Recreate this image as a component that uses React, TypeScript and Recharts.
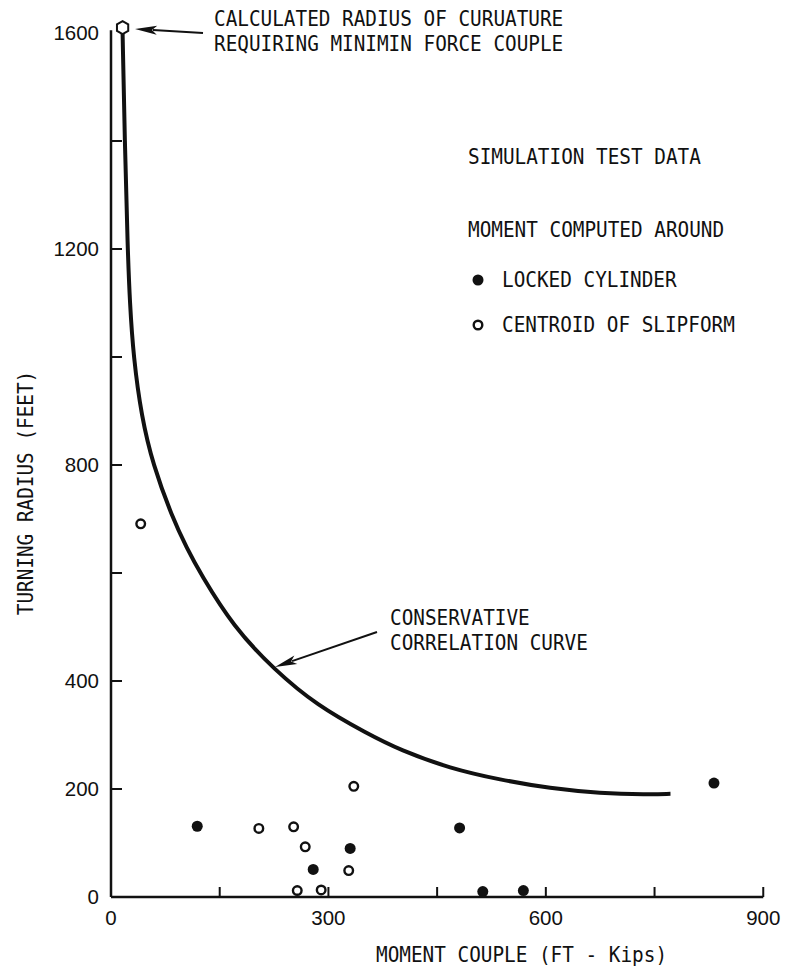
import {
  ReferenceLine,
  Scatter,
  ScatterChart,
  XAxis,
  YAxis,
} from "recharts";

// moment couple (ft-kips) vs turning radius (feet)
const lockedCylinder = [
  { x: 119, y: 131 },
  { x: 279, y: 51 },
  { x: 330, y: 90 },
  { x: 481, y: 128 },
  { x: 513, y: 10 },
  { x: 569, y: 12 },
  { x: 832, y: 211 },
];

const centroidSlipform = [
  { x: 41, y: 691 },
  { x: 204, y: 127 },
  { x: 252, y: 130 },
  { x: 268, y: 93 },
  { x: 257, y: 12 },
  { x: 290, y: 13 },
  { x: 328, y: 49 },
  { x: 335, y: 205 },
];

const calculatedPoint = [{ x: 16, y: 1610 }];

const correlationCurve = [
  { x: 16, y: 1600 },
  { x: 19, y: 1400 },
  { x: 23, y: 1200 },
  { x: 26, y: 1100 },
  { x: 31, y: 1000 },
  { x: 42, y: 890 },
  { x: 58, y: 800 },
  { x: 84, y: 705 },
  { x: 105, y: 645 },
  { x: 123, y: 600 },
  { x: 169, y: 500 },
  { x: 226, y: 420 },
  { x: 284, y: 355 },
  { x: 353, y: 303 },
  { x: 399, y: 272 },
  { x: 468, y: 238 },
  { x: 537, y: 217 },
  { x: 606, y: 201 },
  { x: 675, y: 192 },
  { x: 740, y: 190 },
  { x: 772, y: 191 },
];

const xTicks = [0, 150, 300, 450, 600, 750, 900];
const xLabels = [0, 300, 600, 900];
const yTicks = [0, 200, 400, 600, 800, 1000, 1200, 1400, 1600];
const yLabels = [0, 200, 400, 800, 1200, 1600];

const INK = "#111";
const NUM_FONT = "'Liberation Sans', Arial, sans-serif";
const MONO_FONT = "'DejaVu Sans Mono', monospace";
const X_GAP = 13;
const Y_GAP = 12;

function XTick(props: any) {
  const { x, y, payload } = props;
  const v = payload.value as number;
  return (
    <g>
      {v > 0 && (
        <line x1={x} x2={x} y1={y - X_GAP} y2={y - X_GAP - 10} stroke={INK} strokeWidth={2} />
      )}
      {xLabels.includes(v) && (
        <text x={x} y={y} dy="0.71em" textAnchor="middle" fontSize={20.5} fontFamily={NUM_FONT} fill={INK}>
          {v}
        </text>
      )}
    </g>
  );
}

function YTick(props: any) {
  const { x, y, payload } = props;
  const v = payload.value as number;
  return (
    <g>
      {v > 0 && v < 1600 && (
        <line x1={x + Y_GAP} x2={x + Y_GAP + 11} y1={y} y2={y} stroke={INK} strokeWidth={2} />
      )}
      {yLabels.includes(v) && (
        <text x={x} y={y} dy="0.36em" textAnchor="end" fontSize={20.5} fontFamily={NUM_FONT} fill={INK}>
          {v}
        </text>
      )}
    </g>
  );
}

function FilledDot(props: any) {
  return <circle cx={props.cx} cy={props.cy} r={5.5} fill={INK} />;
}

function OpenDot(props: any) {
  return <circle cx={props.cx} cy={props.cy} r={4.3} fill="#fff" stroke={INK} strokeWidth={2.4} />;
}

function Hexagon(props: any) {
  const { cx, cy } = props;
  const r = 6.5;
  const pts = [0, 1, 2, 3, 4, 5]
    .map((i) => {
      const a = (Math.PI / 3) * i + Math.PI / 6;
      return `${cx + r * Math.cos(a)},${cy + r * Math.sin(a)}`;
    })
    .join(" ");
  return <polygon points={pts} fill="#fff" stroke={INK} strokeWidth={2} />;
}

function Arrow({ x1, y1, x2, y2 }: { x1: number; y1: number; x2: number; y2: number }) {
  const dx = x2 - x1;
  const dy = y2 - y1;
  const len = Math.hypot(dx, dy);
  const ux = dx / len;
  const uy = dy / len;
  const headLen = 22;
  const headW = 4.5;
  const bx = x2 - ux * headLen;
  const by = y2 - uy * headLen;
  const pts = `${x2},${y2} ${bx - uy * headW},${by + ux * headW} ${bx + ux * 5},${by + uy * 5} ${bx + uy * headW},${by - ux * headW}`;
  return (
    <g>
      <line x1={x1} y1={y1} x2={bx + ux * 4} y2={by + uy * 4} stroke={INK} strokeWidth={2} />
      <polygon points={pts} fill={INK} />
    </g>
  );
}

// tall, condensed typewriter-style lettering
function Label({ x, y, children, rotate }: { x: number; y: number; children: string; rotate?: boolean }) {
  return (
    <text
      transform={`translate(${x} ${y})${rotate ? " rotate(-90)" : ""} scale(0.9 1)`}
      textAnchor={rotate ? "middle" : "start"}
      fontSize={21.5}
      fontFamily={MONO_FONT}
      fill={INK}
    >
      {children}
    </text>
  );
}

function Annotations() {
  return (
    <svg
      width={786}
      height={978}
      style={{ position: "absolute", left: 0, top: 0, pointerEvents: "none" }}
    >
      <Label x={214} y={26}>CALCULATED RADIUS OF CURUATURE</Label>
      <Label x={214} y={51}>REQUIRING MINIMIN FORCE COUPLE</Label>
      <Arrow x1={203} y1={33} x2={135} y2={29} />

      <Label x={468} y={164}>SIMULATION TEST DATA</Label>
      <Label x={468} y={237}>MOMENT COMPUTED AROUND</Label>
      <circle cx={478} cy={280} r={5.5} fill={INK} />
      <Label x={502} y={287}>LOCKED CYLINDER</Label>
      <circle cx={478} cy={325} r={4.3} fill="#fff" stroke={INK} strokeWidth={2.4} />
      <Label x={502} y={332}>CENTROID OF SLIPFORM</Label>

      <Label x={390} y={625}>CONSERVATIVE</Label>
      <Label x={390} y={650}>CORRELATION CURVE</Label>
      <Arrow x1={377} y1={632} x2={275} y2={667} />

      <Label x={376} y={962}>MOMENT COUPLE (FT - Kips)</Label>
      <Label x={33} y={493} rotate>TURNING RADIUS (FEET)</Label>
    </svg>
  );
}

export default function App() {
  return (
    <div
      style={{
        position: "absolute",
        left: 0,
        top: 0,
        width: 786,
        height: 978,
        background: "#fff",
      }}
    >
      <ScatterChart
        width={786}
        height={978}
        margin={{ top: 6, right: 1, bottom: 0, left: 0 }}
      >
        <XAxis
          type="number"
          dataKey="x"
          domain={[0, 930]}
          ticks={xTicks}
          interval={0}
          height={81}
          axisLine={false}
          tickLine={false}
          tickSize={0}
          tickMargin={X_GAP}
          tick={<XTick />}
        />
        <YAxis
          type="number"
          dataKey="y"
          domain={[0, 1650]}
          ticks={yTicks}
          interval={0}
          width={111}
          axisLine={false}
          tickLine={false}
          tickSize={0}
          tickMargin={Y_GAP}
          tick={<YTick />}
        />
        <ReferenceLine
          segment={[{ x: 0, y: 0 }, { x: 0, y: 1605 }]}
          stroke={INK}
          strokeWidth={2.5}
        />
        <ReferenceLine
          segment={[{ x: 0, y: 0 }, { x: 900, y: 0 }]}
          stroke={INK}
          strokeWidth={2.5}
        />
        <Scatter
          data={correlationCurve}
          line={{ stroke: INK, strokeWidth: 4 }}
          lineJointType="basis"
          shape={() => <g />}
          isAnimationActive={false}
        />
        <Scatter data={lockedCylinder} shape={<FilledDot />} isAnimationActive={false} />
        <Scatter data={centroidSlipform} shape={<OpenDot />} isAnimationActive={false} />
        <Scatter data={calculatedPoint} shape={<Hexagon />} isAnimationActive={false} />
      </ScatterChart>
      <Annotations />
    </div>
  );
}
